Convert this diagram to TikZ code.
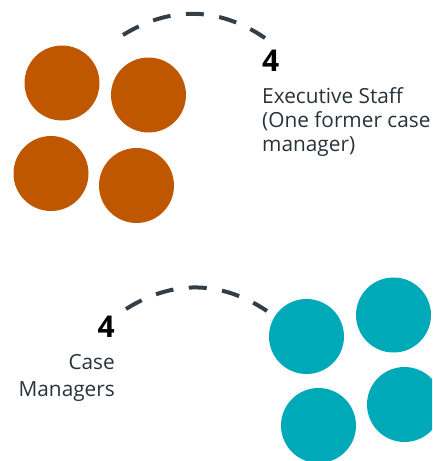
\documentclass[tikz,border=0pt]{standalone}
\usepackage{fontspec}
\setmainfont{Open Sans}
\definecolor{burntorange}{HTML}{BF5700}
\definecolor{staffteal}{HTML}{00A9B7}
\definecolor{charcoal}{HTML}{333F48}
\begin{document}
\begin{tikzpicture}
    [
  x=1pt, y=-1pt,
  person/.style={
    circle,
    fill=#1,
    minimum size=75pt,
    inner sep=0pt
  },
  link/.style={
    draw=charcoal,
    line width=4pt,
    dash pattern=on 18pt off 15.5pt
  },
  count/.style={
    font=\fontsize{30}{31}\selectfont\bfseries,
    text=black,
    inner sep=0pt
  },
  caption/.style={
    font=\fontsize{20.8}{#1}\selectfont,
    text=charcoal!80!black,
    inner sep=0pt
  }
  ]
  \clip (0,0) rectangle (432,461);

  \node (o1) at (62,83) [person=burntorange] {};
  \node (o2) at (148.5,95) [person=burntorange] {};
  \node (o3) at (51,173.5) [person=burntorange] {};
  \node (o4) at (136.5,185.5) [person=burntorange] {};

  \coordinate (s0) at (123,35);
  \coordinate (s1) at (265,38);
  \draw [link] (s0) to[bend left=33] (s1);

  \node (n1) at (262,71) [count, anchor=base west] {4};
  \node (t1) at (262,87) [caption=24.3, anchor=north west, align=left]
    {Executive Staff\\(One former case\\manager)};

  \node (c1) at (306.5,336.5) [person=staffteal] {};
  \node (c2) at (393.5,315) [person=staffteal] {};
  \node (c3) at (318.5,425.5) [person=staffteal] {};
  \node (c4) at (404.5,404.5) [person=staffteal] {};

  \coordinate (m0) at (126,309);
  \coordinate (m1) at (267,311);
  \draw [link] (m0) to[bend left=33] (m1);

  \node (n2) at (115,337) [count, anchor=base east] {4};
  \node (t2) at (115,354) [caption=27.4, anchor=north east, align=right]
    {Case\\Managers};
\end{tikzpicture}
\end{document}
